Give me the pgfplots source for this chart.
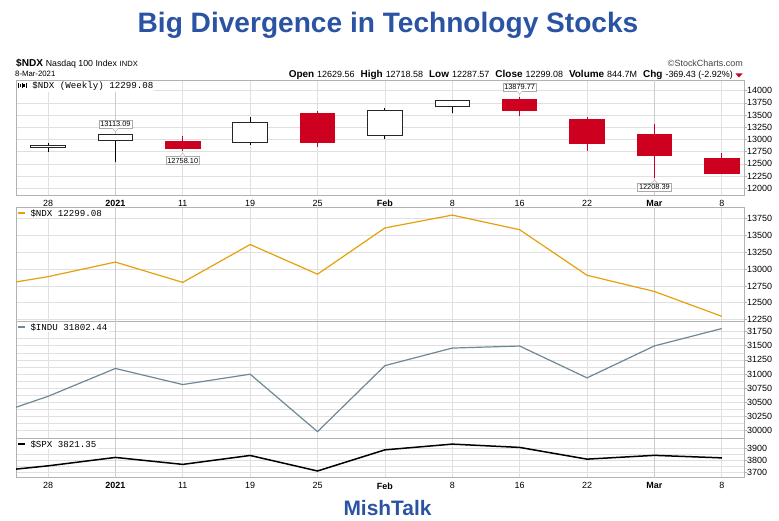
\documentclass[border=0pt]{standalone}
\usepackage{pgfplots}
\pgfplotsset{compat=1.18}
\usepackage{pgfplotstable}
\usepackage{fontspec}
\setmainfont{Liberation Sans}
\setmonofont{Liberation Mono}
\definecolor{titleblue}{RGB}{43,83,163}
\definecolor{candred}{RGB}{205,0,32}
\definecolor{ndxorange}{RGB}{230,160,10}
\definecolor{induslate}{RGB}{110,136,150}
\definecolor{gridgray}{RGB}{224,224,224}
\definecolor{darkgrid}{RGB}{204,204,204}
\definecolor{framegray}{RGB}{178,178,178}
\definecolor{annogray}{RGB}{170,170,170}

% weekly candles: x = week index (0 = 28 Dec 2020)
\pgfplotstableread{
x O H L C
0 12820 12934 12750 12888
1 12963 13113.09 12533 13105
3 12928 13455 12881 13366
5 13072 13652 13004 13612
6 13660 13815 13537 13803
}\hollow
\pgfplotstableread{
x O H L C
2 12975 13066 12758.10 12803
4 13537 13584 12853 12925
7 13830 13879.77 13482 13586
8 13420 13455 12764 12909
9 13113 13318 12208.39 12668
10 12629.56 12718.58 12287.57 12299.08
}\filled
% weekly closes
\pgfplotstableread{
x ndx indu spx
-1 12724 30200 3700
0 12888 30606 3756
1 13105 31098 3825
2 12803 30814 3768
3 13366 30997 3841
4 12925 29983 3714
5 13612 31148 3887
6 13803 31458 3934
7 13586 31494 3907
8 12909 30932 3811
9 12668 31496 3842
10 12299.08 31802.44 3821.35
}\closes

\pgfplotsset{
 panel/.style={
  scale only axis, width=728bp, anchor=south west,
  xmin=-0.475, xmax=10.33,
  xtick={0,1,2,3,4,5,6,7,8,9,10},
  xticklabels={},
  axis line style={draw=framegray, line width=0.8bp},
  grid=major, grid style={draw=gridgray, line width=0.6bp},
  ytick pos=right, yticklabel pos=right,
  tick align=outside, major tick length=2.5bp, minor tick length=0pt,
  xtick style={draw=none},
  ytick style={draw=framegray, line width=0.6bp},
  yticklabel style={font=\fontsize{9}{10}\selectfont, inner sep=0pt, xshift=0.5bp},
  xticklabel style={font=\fontsize{9}{10}\selectfont, inner sep=0pt, yshift=-2.3bp},
  scaled y ticks=false,
  /pgf/number format/1000 sep={},
  /pgf/number format/assume math mode=true,
  extra x ticks={1,9},
  extra x tick labels={},
  extra x tick style={grid style={draw=darkgrid, line width=1.1bp}, major tick length=0pt},
 },
 bar/.style={draw=none, mark=none, forget plot, error bars/.cd, y dir=plus, y explicit, error mark=none},
}
\tikzset{
 anno/.style={draw=annogray, fill=white, inner xsep=1.5bp, inner ysep=1.4bp, font=\fontsize{7.4}{8}\selectfont},
 plabel/.style={anchor=north west, fill=white, inner sep=1bp, font=\ttfamily\fontsize{9.2}{10}\selectfont},
}
\newcommand{\weeklabels}{28,\textbf{2021},11,19,25,\textbf{Feb},8,16,22,\textbf{Mar},8}
\newcommand{\annoUp}[3]{%
 \node[anno, anchor=south, yshift=5.5bp] (#3) at (axis cs:#1,#2) {#2};
 \draw[draw=annogray, fill=white] ([xshift=-3bp]#3.south) -- ([yshift=-3bp]#3.south) -- ([xshift=3bp]#3.south);
}
\newcommand{\annoDown}[3]{%
 \node[anno, anchor=north, yshift=-5bp] (#3) at (axis cs:#1,#2) {#2};
 \draw[draw=annogray, fill=white] ([xshift=-3bp]#3.north) -- ([yshift=3bp]#3.north) -- ([xshift=3bp]#3.north);
}

\begin{document}
\begin{tikzpicture}
\path[use as bounding box] (0bp,0bp) rectangle (779bp,521bp);

% titles and header
\node[anchor=base, inner sep=0, font=\bfseries\fontsize{28.2}{31}\selectfont, text=titleblue] at (388bp,488bp) {Big Divergence in Technology Stocks};
\node[anchor=base, inner sep=0, font=\bfseries\fontsize{21}{24}\selectfont, text=titleblue] at (387.5bp,6bp) {MishTalk};
\node[anchor=base west, inner sep=0] at (16bp,454.5bp) {{\bfseries\fontsize{10.1}{12}\selectfont\$NDX} {\fontsize{8.8}{10}\selectfont Nasdaq 100 Index} {\fontsize{7.6}{10}\selectfont INDX}};
\node[anchor=base west, inner sep=0, font=\fontsize{7.8}{9}\selectfont] at (15bp,444bp) {8-Mar-2021};
\node[anchor=base east, inner sep=0, font=\fontsize{9}{10}\selectfont, text=black!75] at (743bp,454.5bp) {\textcopyright StockCharts.com};
\newcommand{\hb}[1]{{\bfseries\fontsize{10}{11}\selectfont #1}\hspace{3bp}}
\newcommand{\hv}[1]{{\fontsize{9}{10}\selectfont #1}\hspace{6bp}}
\node[anchor=base east, inner sep=0] at (733bp,443.7bp) {\hb{Open}\hv{12629.56}\hb{High}\hv{12718.58}\hb{Low}\hv{12287.57}\hb{Close}\hv{12299.08}\hb{Volume}\hv{844.7M}\hb{Chg}{\fontsize{9}{10}\selectfont -369.43 (-2.92\%)}};
\fill[candred] (735.5bp,447.5bp) -- (742.5bp,447.5bp) -- (739bp,443.5bp) -- cycle;

% ---------- panel 1: weekly candles ----------
\begin{axis}[panel, at={(16bp,326bp)}, height=115bp,
  ymin=11863, ymax=14219,
  ytick={12000,12250,12500,12750,13000,13250,13500,13750,14000},
  xticklabels/.expand once=\weeklabels]
% wicks
\addplot[bar, error bar style={draw=black, line width=1bp}]
  table[x=x, y=L, y error expr=\thisrow{H}-\thisrow{L}] {\hollow};
\addplot[bar, error bar style={draw=candred, line width=1bp}]
  table[x=x, y=L, y error expr=\thisrow{H}-\thisrow{L}] {\filled};
% bodies
\addplot[bar, error bar style={draw=black!85, line width=35.5bp}]
  table[x=x, y expr={min(\thisrow{O},\thisrow{C})}, y error expr={abs(\thisrow{C}-\thisrow{O})}] {\hollow};
\addplot[bar, error bar style={draw=white, line width=33.3bp, shorten <=1.1bp, shorten >=1.1bp}]
  table[x=x, y expr={min(\thisrow{O},\thisrow{C})}, y error expr={abs(\thisrow{C}-\thisrow{O})}] {\hollow};
\addplot[bar, error bar style={draw=candred, line width=35.5bp}]
  table[x=x, y expr={min(\thisrow{O},\thisrow{C})}, y error expr={abs(\thisrow{C}-\thisrow{O})}] {\filled};
\annoUp{1}{13113.09}{aa}
\annoDown{2}{12758.10}{ab}
\annoUp{7}{13879.77}{ac}
\annoDown{9}{12208.39}{ad}
\node[plabel] at (rel axis cs:0,1) [xshift=0.8bp, yshift=-0.8bp] {\raisebox{0.3bp}{\rule{1.2bp}{5.5bp}}\hspace{0.4bp}\raisebox{1.5bp}{\rule{1.8bp}{3bp}}\hspace{0.4bp}\raisebox{0.3bp}{\rule{1.2bp}{5.5bp}}\hspace{0.4bp}\raisebox{1.5bp}{\rule{1.8bp}{3bp}}\hspace{0.4bp}\raisebox{0.3bp}{\rule{1.2bp}{5.5bp}} \$NDX (Weekly) 12299.08};
\end{axis}

% ---------- panel 2: NDX close ----------
\begin{axis}[panel, at={(16bp,199.5bp)}, height=114bp,
  ymin=12222, ymax=13916,
  ytick={12250,12500,12750,13000,13250,13500,13750}]
\addplot[ndxorange, line width=1.2bp, mark=none] table[x=x, y=ndx] {\closes};
\node[plabel] at (rel axis cs:0,1) [xshift=0.8bp, yshift=-0.8bp] {\textcolor{ndxorange}{\rule[2.6bp]{7bp}{1.6bp}} \$NDX 12299.08};
\end{axis}

% ---------- panel 3: INDU close ----------
\begin{axis}[panel, at={(16bp,82.5bp)}, height=117bp,
  ymin=29862, ymax=31927,
  ytick={30000,30250,30500,30750,31000,31250,31500,31750},
  minor y tick num=1, yminorgrids, minor grid style={draw=gridgray, line width=0.5bp}]
\addplot[induslate, line width=1.2bp, mark=none] table[x=x, y=indu] {\closes};
\node[plabel] at (rel axis cs:0,1) [xshift=0.8bp, yshift=-0.8bp] {\textcolor{induslate}{\rule[2.6bp]{7bp}{1.6bp}} \$INDU 31802.44};
\end{axis}

% ---------- panel 4: SPX close ----------
\begin{axis}[panel, at={(16bp,43.3bp)}, height=39.2bp,
  ymin=3659, ymax=3980,
  ytick={3700,3800,3900},
  minor y tick num=1, yminorgrids, minor grid style={draw=gridgray, line width=0.5bp},
  xticklabels/.expand once=\weeklabels]
\addplot[black, line width=1.5bp, mark=none] table[x=x, y=spx] {\closes};
\node[plabel] at (rel axis cs:0,1) [xshift=0.8bp, yshift=-0.8bp] {\rule[2.6bp]{7bp}{1.8bp} \$SPX 3821.35};
\end{axis}
\end{tikzpicture}
\end{document}
